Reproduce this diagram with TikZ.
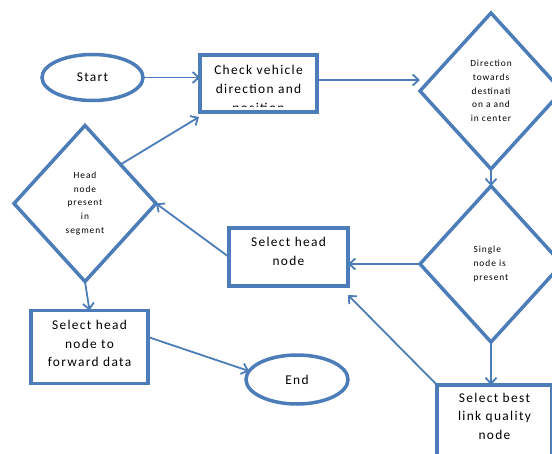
\documentclass[tikz,border=0pt]{standalone}
\usepackage{fontspec}
\newfontfamily\flowfont[LetterSpace=10]{Carlito}
\usepackage{xcolor}
\definecolor{FlowBlue}{RGB}{76,125,185}
\usetikzlibrary{arrows.meta,shapes.geometric}

\begin{document}
\begin{tikzpicture}[-{Straight Barb[length=6pt,width=11pt]}, color=FlowBlue, line width=1.8pt,
      x=1pt, y=-1pt,
      every node/.append style={text=black,inner sep=0pt,outer sep=0pt}]
    \tikzstyle{box} = [draw,rectangle,line width=3.5pt,align=center,
      font=\flowfont\fontsize{13.4}{18.6}\selectfont]
    \tikzstyle{decision} = [draw,diamond,line width=3.5pt,align=center,
      minimum width=142pt,minimum height=156pt,
      font=\flowfont\fontsize{9.4}{13.7}\selectfont]
    \tikzstyle{terminal} = [draw,ellipse,line width=3.5pt,
      minimum width=101pt,minimum height=46pt,
      font=\flowfont\fontsize{13.4}{18.6}\selectfont]
    \useasboundingbox (0,0) rectangle (552,453);
    \clip (0,0) rectangle (552,453);
    \node [terminal] (start) at (92.5,77.5) {Start};
    \node [box,minimum width=117pt,minimum height=57pt] (check) at (258.5,83.5) {};
    \begin{scope}
      \clip (check.north west) rectangle ([yshift=6pt]check.south east);
      \node [anchor=north,align=center,font=\flowfont\fontsize{13.4}{18.6}\selectfont]
        (checktext) at ([yshift=-10.5pt]check.north) {Check vehicle\\direction and\\position};
    \end{scope}
    \node [decision] (direction) at (491,91) {Direction\\towards\\destinati\\on a and\\in center};
    \node [decision,align=left] (single) at (491,264) {Single\\node is\\present};
    \node [decision] (head) at (85,203.5) {Head\\node\\present\\in\\segment};
    \node [box,minimum width=119pt,minimum height=58pt,text depth=11pt] (select) at (288.5,257) {Select head\\node};
    \node [box,minimum width=117pt,minimum height=73pt,text depth=7pt] (forward) at (89.5,347) {Select head\\node to\\forward data};
    \node [terminal,minimum width=102pt,minimum height=49pt] (end) at (297,379.5) {End};
    \node [box,minimum width=115pt,minimum height=73pt,text depth=11pt] (best) at (494.5,421.5) {Select best\\link quality\\node};
    \draw (start.east) -- (start.east -| check.west);
    \draw ([yshift=3.5pt]check.east) -- ([yshift=3.5pt]check.east -| direction.west);
    \draw (direction.south) -- (single.north);
    \draw (single.west) -- (single.west -| select.east);
    \draw (single.south) -- (single.south |- best.north);
    \draw (best.north west) -- ([yshift=-9pt]select.south east);
    \draw (select.west) -- (head.east);
    \draw (head.north east) -- ([shift={(-1pt,-5pt)}]check.south west);
    \draw (head.south) -- (forward.north);
    \draw ([yshift=10pt]forward.east) -- (end.170);
\end{tikzpicture}
\end{document}
